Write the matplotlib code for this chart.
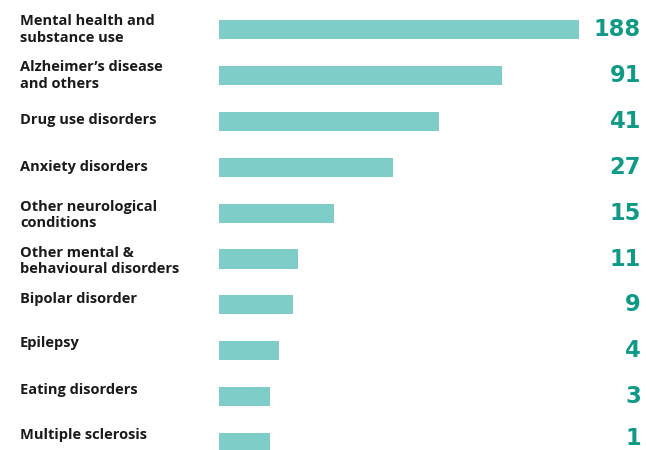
import matplotlib
matplotlib.use("Agg")
import matplotlib.pyplot as plt
import matplotlib.transforms as mtransforms

# categories, shown values and bar lengths (bars are not linear with values)
categories = [
    "Mental health and\nsubstance use",
    "Alzheimer’s disease\nand others",
    "Drug use disorders",
    "Anxiety disorders",
    "Other neurological\nconditions",
    "Other mental &\nbehavioural disorders",
    "Bipolar disorder",
    "Epilepsy",
    "Eating disorders",
    "Multiple sclerosis",
]
values = [188, 91, 41, 27, 15, 11, 9, 4, 3, 1]
bar_len = [360, 283, 220, 174, 115, 79, 74, 60, 51, 51]

# label vertical nudges (in px, positive = down)
label_dy = [0, 0, -1, 0, 2, 2, -6, -8, -7, -8]
value_dy = [0, 0, 0, 0, 0, 0, 0, 0, 0, -4]

W, H = 646, 450
fig = plt.figure(figsize=(W / 100, H / 100), dpi=100)

x0, x1 = 219, 579
ytop, ybot = 29.5 - 45.9 / 2, 29.5 + 45.9 * 9.5
ax = fig.add_axes([x0 / W, (H - ybot) / H, (x1 - x0) / W, (ybot - ytop) / H])

ax.barh(range(len(values)), bar_len, height=0.414, color="#7ecdc8", left=0)
ax.set_xlim(0, 360)
ax.set_ylim(9.5, -0.5)
ax.axis("off")

trans = mtransforms.blended_transform_factory(fig.transFigure, ax.transData)
px = 1 / 45.9
for i, (c, v) in enumerate(zip(categories, values)):
    ax.text(20 / W, i + label_dy[i] * px, c, transform=trans, ha="left", va="center",
            fontsize=10.5, fontweight="bold", color="#1a1a1a",
            family="Open Sans", linespacing=1.2)
    ax.text(641 / W, i + value_dy[i] * px, str(v), transform=trans, ha="right",
            va="center", fontsize=16.3, fontweight="bold", color="#0f9a88",
            family="DejaVu Sans")

fig.savefig("out.png", dpi=100)
